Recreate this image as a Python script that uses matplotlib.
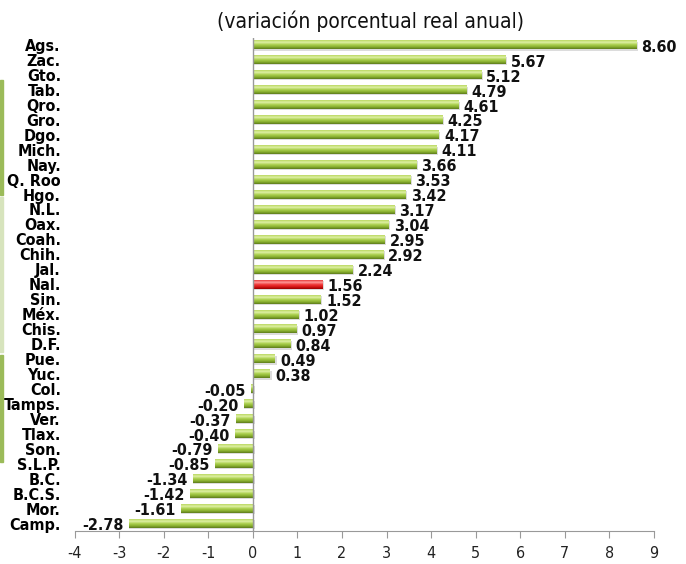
import numpy as np
import matplotlib
matplotlib.use("Agg")
import matplotlib.pyplot as plt
from matplotlib.colors import LinearSegmentedColormap
from matplotlib.patches import Rectangle

states = ["Ags.", "Zac.", "Gto.", "Tab.", "Qro.", "Gro.", "Dgo.", "Mich.", "Nay.",
          "Q. Roo", "Hgo.", "N.L.", "Oax.", "Coah.", "Chih.", "Jal.", "Nal.", "Sin.",
          "Méx.", "Chis.", "D.F.", "Pue.", "Yuc.", "Col.", "Tamps.", "Ver.", "Tlax.",
          "Son.", "S.L.P.", "B.C.", "B.C.S.", "Mor.", "Camp."]
values = [8.60, 5.67, 5.12, 4.79, 4.61, 4.25, 4.17, 4.11, 3.66, 3.53, 3.42, 3.17,
          3.04, 2.95, 2.92, 2.24, 1.56, 1.52, 1.02, 0.97, 0.84, 0.49, 0.38, -0.05,
          -0.20, -0.37, -0.40, -0.79, -0.85, -1.34, -1.42, -1.61, -2.78]
highlight = "Nal."
xticks = list(range(-4, 10))

plt.rcParams['font.family'] = ['DejaVu Sans']
plt.rcParams['font.stretch'] = 'condensed'

green = LinearSegmentedColormap.from_list(
    "g", ["#5e7d1c", "#8cb332", "#add151", "#def0a4", "#bcd964"])
red = LinearSegmentedColormap.from_list(
    "r", ["#9a0000", "#d81818", "#f03a3a", "#ff9a9a", "#e84040"])
grad = np.linspace(0, 1, 32).reshape(-1, 1)

fig = plt.figure(figsize=(6.86, 5.64), dpi=100)
ax = fig.add_axes([0.109, 0.0585, 0.844, 0.875])

n = len(states)
ypos = np.arange(n)[::-1]
h = 0.58
fs = 11.5
for y, v, s in zip(ypos, values, states):
    cmap = red if s == highlight else green
    x0, x1 = min(0, v), max(0, v)
    # soft shadow
    ax.add_patch(Rectangle((x0, y - h / 2 - 0.08), x1 - x0 + 0.04, h,
                           color="#dcdcdc", zorder=1, lw=0))
    ax.imshow(grad, cmap=cmap, aspect="auto", origin="lower",
              extent=(x0, x1, y - h / 2, y + h / 2), zorder=2)
    label = f"{v:.2f}"
    if v >= 0:
        ax.text(v + 0.12, y - 0.15, label, ha="left", va="center",
                fontsize=fs, fontweight="bold", color="#111111")
    else:
        ax.text(v - 0.12, y - 0.15, label, ha="right", va="center",
                fontsize=fs, fontweight="bold", color="#111111")

ax.set_xlim(-4, 9)
ax.set_ylim(-0.5, n - 0.5)
ax.set_yticks(ypos)
ax.set_yticklabels(states, fontsize=fs, fontweight="bold")
ax.tick_params(axis="y", length=0, pad=10)
ax.set_xticks(xticks)
ax.set_xticklabels([str(t) for t in xticks], fontsize=fs, color="#222222")
ax.tick_params(axis="x", direction="out", length=5, color="#999999", pad=6)

for side in ["top", "right", "left"]:
    ax.spines[side].set_visible(False)
ax.spines["bottom"].set_color("#999999")
ax.axvline(0, color="#999999", lw=1, zorder=3)

fig.text(0.54, 0.962, "(variación porcentual real anual)", ha="center",
         va="center", fontsize=15, color="#111111")

# decorative side strips from the slide
fig.patches.append(Rectangle((0, 1 - 195 / 564), 0.005, 115 / 564,
                             transform=fig.transFigure, color="#9bbb59"))
fig.patches.append(Rectangle((0, 1 - 352 / 564), 0.005, 155 / 564,
                             transform=fig.transFigure, color="#d7e4bd"))
fig.patches.append(Rectangle((0, 1 - 462 / 564), 0.005, 107 / 564,
                             transform=fig.transFigure, color="#9bbb59"))

fig.savefig("out.png", dpi=100)
